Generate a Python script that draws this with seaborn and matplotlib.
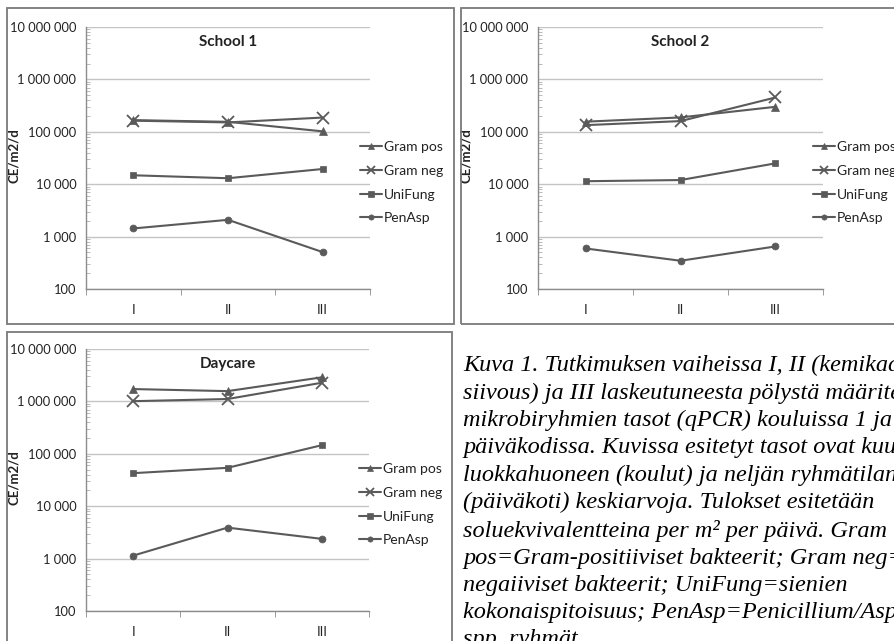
import numpy as np
import pandas as pd
import seaborn as sns
import matplotlib.pyplot as plt
from matplotlib.patches import Rectangle
from matplotlib.ticker import FuncFormatter, LogLocator, FixedLocator, NullFormatter

# values (CE/m2/d)
phases = ['I', 'II', 'III']
groups = ['Gram pos', 'Gram neg', 'UniFung', 'PenAsp']

school1_grampos = [167000, 155000, 102000]
school1_gramneg = [163000, 151000, 187000]
school1_unifung = [14800, 13000, 19500]
school1_penasp = [1430, 2090, 506]

school2_grampos = [156000, 188000, 300000]
school2_gramneg = [134000, 160000, 452000]
school2_unifung = [11400, 12000, 25000]
school2_penasp = [594, 346, 649]

daycare_grampos = [1720000, 1570000, 2880000]
daycare_gramneg = [1010000, 1110000, 2270000]
daycare_unifung = [42700, 54000, 146000]
daycare_penasp = [1140, 3900, 2380]

panels = {
    'School 1': [school1_grampos, school1_gramneg, school1_unifung, school1_penasp],
    'School 2': [school2_grampos, school2_gramneg, school2_unifung, school2_penasp],
    'Daycare': [daycare_grampos, daycare_gramneg, daycare_unifung, daycare_penasp],
}

caption = ("Kuva 1. Tutkimuksen vaiheissa I, II (kemikaaliton\n"
           "siivous) ja III laskeutuneesta pölystä määritetyt\n"
           "mikrobiryhmien tasot (qPCR) kouluissa 1 ja 2\n"
           "päiväkodissa. Kuvissa esitetyt tasot ovat kuuden\n"
           "luokkahuoneen (koulut) ja neljän ryhmätilan\n"
           "(päiväkoti) keskiarvoja. Tulokset esitetään\n"
           "soluekvivalentteina per m² per päivä. Gram\n"
           "pos=Gram-positiiviset bakteerit; Gram neg=Gram-\n"
           "negaiiviset bakteerit; UniFung=sienien\n"
           "kokonaispitoisuus; PenAsp=Penicillium/Aspergillus\n"
           "spp. ryhmät")

sns.set_style('white')
plt.rcParams['font.family'] = ['Lato', 'DejaVu Sans']

W, H = 894, 641
fig = plt.figure(figsize=(W / 100, H / 100), dpi=100)

def fig_box(x0, y0, x1, y1):
    # pixel box (top-left origin) -> figure fraction rect
    return [x0 / W, 1 - y1 / H, (x1 - x0) / W, (y1 - y0) / H]

# panel frames
frame_col = '#7a7a7a'
for (x0, y0, x1, y1) in [(7, 8, 454, 324), (461, 8, 910, 324), (7, 332, 452, 660)]:
    fig.patches.append(Rectangle((x0 / W, 1 - y1 / H), (x1 - x0) / W, (y1 - y0) / H,
                                 transform=fig.transFigure, fill=False,
                                 edgecolor=frame_col, linewidth=1.3))

ax_boxes = {
    'School 1': (86, 27, 370, 289),
    'School 2': (538, 27, 823, 289),
    'Daycare': (86, 349, 369, 611),
}

line_col = '#5a5a5a'
markers = {'Gram pos': '^', 'Gram neg': 'x', 'UniFung': 's', 'PenAsp': 'o'}
sizes = {'Gram pos': 6, 'Gram neg': 8, 'UniFung': 5, 'PenAsp': 5}

for name, series in panels.items():
    ax = fig.add_axes(fig_box(*ax_boxes[name]))
    rows = []
    for g, vals in zip(groups, series):
        for p, v in zip(phases, vals):
            rows.append({'phase': p, 'value': v, 'group': g})
    df = pd.DataFrame(rows)

    for g in groups:
        sub = df[df['group'] == g]
        sns.lineplot(data=sub, x='phase', y='value', ax=ax, color=line_col,
                     marker=markers[g], markersize=sizes[g], markeredgecolor=line_col,
                     markeredgewidth=1.3 if g == 'Gram neg' else 0.5,
                     linewidth=1.5, label=g, legend=False)

    ax.set_yscale('log')
    ax.set_ylim(100, 1e7)
    ax.set_xlim(-0.5, 2.5)

    ax.yaxis.set_major_locator(FixedLocator([1e2, 1e3, 1e4, 1e5, 1e6, 1e7]))
    ax.yaxis.set_major_formatter(FuncFormatter(lambda v, pos: f"{int(round(v)):,}".replace(',', ' ')))
    ax.yaxis.set_minor_locator(LogLocator(base=10, subs=np.arange(2, 10)))
    ax.yaxis.set_minor_formatter(NullFormatter())
    ax.xaxis.set_minor_locator(FixedLocator([-0.5, 0.5, 1.5, 2.5]))

    ax.grid(axis='y', which='major', color='#c4c4c4', linewidth=1)
    ax.set_axisbelow(True)
    for s in ['top', 'right']:
        ax.spines[s].set_visible(False)
    for s in ['left', 'bottom']:
        ax.spines[s].set_color('#8c8c8c')
        ax.spines[s].set_linewidth(1)

    ax.tick_params(axis='y', which='major', direction='out', length=4, color='#8c8c8c',
                   labelsize=9.3, labelcolor='#222222', pad=3)
    ax.tick_params(axis='y', which='minor', direction='in', length=3, color='#b0b0b0', left=True)
    ax.tick_params(axis='x', which='major', length=0, labelsize=9.5, labelcolor='#222222', pad=11)
    ax.tick_params(axis='x', which='minor', direction='out', length=4, color='#8c8c8c', bottom=True)

    ax.set_xlabel('')
    ax.set_ylabel('CE/m2/d', fontsize=9.5, fontweight='bold', color='#222222')
    ax.yaxis.set_label_coords(-0.232, 0.51)

    ax.text(0.5, 0.943, name, transform=ax.transAxes, ha='center', va='center',
            fontsize=11, fontweight='bold', color='#222222')

    handles, labels = ax.get_legend_handles_labels()
    leg = ax.legend(handles, labels, loc='center left', bbox_to_anchor=(0.965, 0.406),
                    frameon=False, fontsize=10, handlelength=1.55, handletextpad=0.18,
                    labelspacing=0.85, borderpad=0, borderaxespad=0, markerscale=0.75)
    for t in leg.get_texts():
        t.set_color('#222222')

fig.text(463 / W, 1 - 355 / H, caption, ha='left', va='top', fontsize=17.5,
         family=['Liberation Serif', 'DejaVu Serif'], style='italic',
         linespacing=1.385, color='black')

fig.savefig('out.png', dpi=100)
